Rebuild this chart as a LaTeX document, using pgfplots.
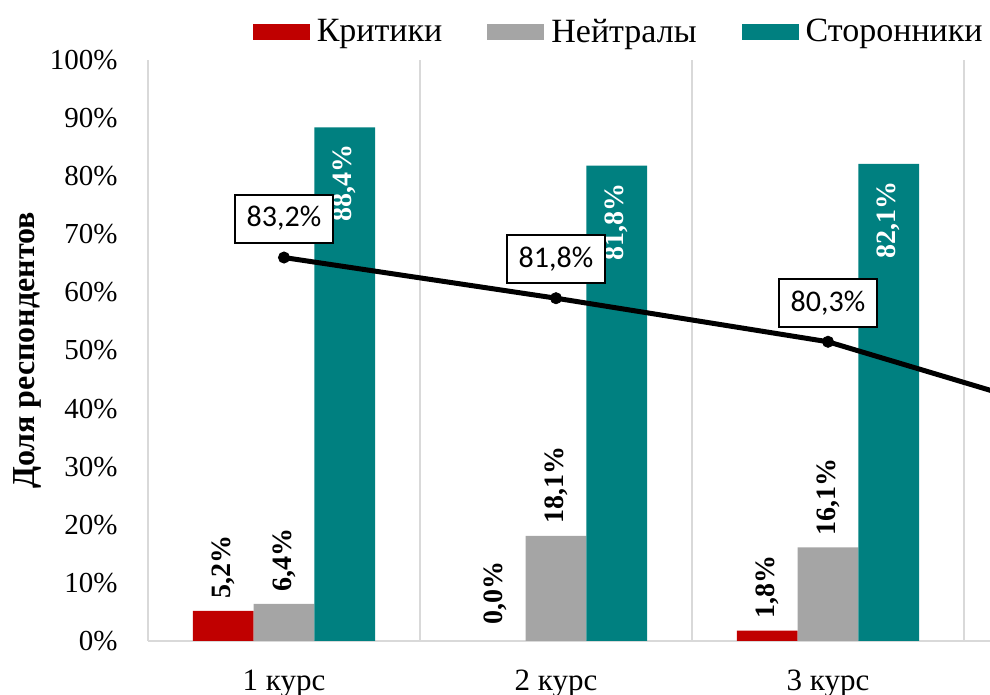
\documentclass[border=0pt]{standalone}
\usepackage{pgfplots}
\pgfplotsset{compat=1.18}
\usepackage{fontspec}
\setmainfont{Liberation Serif}
\newfontfamily\carlito{Carlito}
\definecolor{cred}{HTML}{C00000}
\definecolor{cgray}{HTML}{A5A5A5}
\definecolor{cteal}{HTML}{008080}
\definecolor{gridc}{HTML}{D9D9D9}
\begin{document}
\begin{tikzpicture}
\useasboundingbox (0,0) rectangle (495pt,347.5pt);
\begin{axis}[
  at={(74pt,27pt)}, anchor=south west, scale only axis,
  width=421pt, height=290.5pt,
  xmin=-0.5, xmax=2.5956, ymin=0, ymax=100,
  ybar=0pt, bar width=30.35pt,
  axis x line*=bottom, axis y line*=left,
  axis line style={draw=gridc, line width=0.6pt, -},
  xtick={0,1,2}, xticklabels={1 курс,2 курс,3 курс},
  minor xtick={-0.5,0.5,1.5,2.5}, xminorgrids,
  minor grid style={draw=gridc, line width=0.6pt},
  major tick length=0pt, minor tick length=0pt,
  ytick={0,10,20,30,40,50,60,70,80,90,100},
  yticklabels={0\%,10\%,20\%,30\%,40\%,50\%,60\%,70\%,80\%,90\%,100\%},
  xticklabel style={font=\fontsize{15.5}{18}\selectfont, anchor=north, inner sep=0pt, yshift=-14.5pt},
  yticklabel style={font=\fontsize{14.5}{17}\selectfont, anchor=east, inner sep=0pt, xshift=-15pt},
  ylabel={Доля респондентов},
  ylabel style={font=\bfseries\fontsize{16}{19}\selectfont, at={(axis description cs:-0.1437,0.5)}, anchor=center},
  legend style={at={(0.562,1.048)}, anchor=center, draw=none, fill=none,
    legend columns=3, font=\fontsize{17}{20}\selectfont,
    /tikz/every even column/.append style={column sep=19pt}, inner sep=0pt,
    nodes={inner xsep=3.5pt, inner ysep=1pt}},
  legend image code/.code={\path[#1] (0pt,-4pt) rectangle (28.5pt,4pt);},
]
\addplot[fill=cred, draw=none, bar shift=-30.35pt, nodes near coords, point meta=explicit symbolic,
  nodes near coords style={rotate=90, anchor=west, font=\bfseries\fontsize{14}{17}\selectfont, text=black, inner xsep=6pt, inner ysep=0pt}]
  coordinates {(0,5.2) [5,2\%] (2,1.8) [1,8\%]};
\addlegendentry{Критики}
\addplot[fill=cgray, draw=none, bar shift=0pt, nodes near coords, point meta=explicit symbolic,
  nodes near coords style={rotate=90, anchor=west, font=\bfseries\fontsize{14}{17}\selectfont, text=black, inner xsep=6pt, inner ysep=0pt}]
  coordinates {(0,6.4) [6,4\%] (1,18.1) [18,1\%] (2,16.1) [16,1\%]};
\addlegendentry{Нейтралы}
\addplot[fill=cteal, draw=none, bar shift=30.35pt, nodes near coords, point meta=explicit symbolic,
  nodes near coords style={rotate=90, anchor=east, font=\bfseries\fontsize{14}{17}\selectfont, text=white, inner xsep=8.5pt, inner ysep=0pt}]
  coordinates {(0,88.4) [88,4\%] (1,81.8) [81,8\%] (2,82.1) [82,1\%]};
\addlegendentry{Сторонники}
\addplot[fill=none, draw=none, bar shift=-30.35pt, forget plot, nodes near coords, point meta=explicit symbolic,
  nodes near coords style={rotate=90, anchor=west, font=\bfseries\fontsize{14}{17}\selectfont, text=black, inner xsep=8pt, inner ysep=0pt}]
  coordinates {(1,0) [0,0\%]};
\end{axis}
\begin{axis}[
  at={(74pt,27pt)}, anchor=south west, scale only axis,
  width=421pt, height=290.5pt,
  xmin=-0.5, xmax=2.5956, ymin=70, ymax=90, hide axis]
\addplot[black, line width=2.5pt, no markers] coordinates {(0,83.2) (1,81.8) (2,80.3) (3,77.5)};
\addplot[black, only marks, mark=*, mark size=2.8pt, mark options={line width=0.4pt},
  nodes near coords, point meta=explicit symbolic,
  nodes near coords style={draw=black, line width=1pt, fill=white, text=black,
    font=\carlito\fontsize{15}{18}\selectfont, minimum width=49pt, minimum height=24pt,
    inner sep=0pt, anchor=center, yshift=19.5pt}]
  coordinates {(0,83.2) [83,2\%] (1,81.8) [81,8\%] (2,80.3) [80,3\%]};
\end{axis}
\end{tikzpicture}
\end{document}
